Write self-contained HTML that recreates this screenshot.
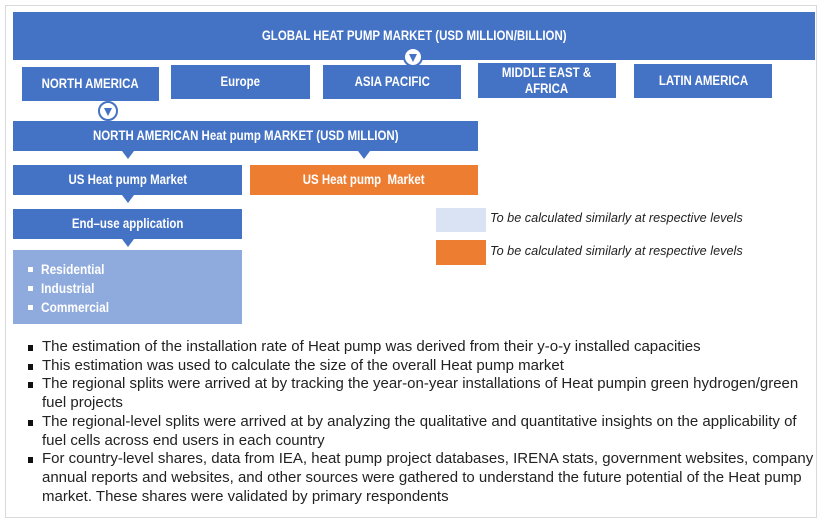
<!DOCTYPE html>
<html><head><meta charset="utf-8"><style>
body{margin:0;width:822px;height:529px;background:#fff;position:relative;overflow:hidden;font-family:"Liberation Sans",sans-serif}
.b{position:absolute;background:#4472c4;color:#fff;font-weight:bold;font-size:13.5px;display:flex;align-items:center;justify-content:center;text-align:center;line-height:16px}
.b span{display:inline-block;transform:scaleX(0.85);white-space:nowrap}
.o{background:#ed7d31}
.tri{position:absolute;width:0;height:0;border-left:6px solid transparent;border-right:6px solid transparent;border-top:8px solid #4472c4}
.c{position:absolute;width:20px;height:20px;border-radius:50%;background:#fff;border:2px solid #4472c4;box-sizing:border-box}
.c:after{content:"";position:absolute;left:4px;top:5px;border-left:4.5px solid transparent;border-right:4.5px solid transparent;border-top:8px solid #4472c4}
.frame{position:absolute;left:5px;top:5px;width:812px;height:513px;border:1px solid #d9d9d9;box-sizing:border-box}
.leg{position:absolute;font-style:italic;font-size:12.7px;color:#222}
ul{position:absolute;left:42px;top:338px;margin:0;padding:0;list-style:none;font-size:15px;line-height:18.7px;color:#222;width:800px}
li{position:relative;white-space:nowrap}
li:before{content:"";position:absolute;left:-14px;top:7px;width:5px;height:6px;background:#111}
.lst{position:absolute;left:28px;top:10px}
.lst span{display:inline-block;transform:scaleX(0.88);transform-origin:left}
</style></head><body>
<div class="frame"></div>
<div class="b" style="left:13px;top:12px;width:802px;height:48px"><span>GLOBAL HEAT PUMP MARKET (USD MILLION/BILLION)</span></div>
<div class="c" style="left:403px;top:47px"></div>
<div class="b" style="left:22px;top:67px;width:137px;height:34px"><span>NORTH AMERICA</span></div>
<div class="b" style="left:171px;top:65px;width:139px;height:34px"><span>Europe</span></div>
<div class="b" style="left:323px;top:65px;width:138px;height:34px"><span>ASIA PACIFIC</span></div>
<div class="b" style="left:478px;top:63px;width:138px;height:35px"><span>MIDDLE EAST &amp;<br>AFRICA</span></div>
<div class="b" style="left:634px;top:64px;width:138px;height:34px"><span>LATIN AMERICA</span></div>
<div class="c" style="left:98px;top:101px"></div>
<div class="b" style="left:13px;top:121px;width:465px;height:30px"><span>NORTH AMERICAN Heat pump MARKET (USD MILLION)</span></div>
<div class="tri" style="left:122px;top:151px"></div>
<div class="tri" style="left:358px;top:151px"></div>
<div class="b" style="left:13px;top:165px;width:229px;height:30px"><span>US Heat pump Market</span></div>
<div class="b o" style="left:250px;top:165px;width:228px;height:30px"><span>US Heat pump&nbsp; Market</span></div>
<div class="tri" style="left:122px;top:195px"></div>
<div class="b" style="left:13px;top:209px;width:229px;height:30px"><span>End–use application</span></div>
<div class="tri" style="left:122px;top:239px"></div>
<div style="position:absolute;left:13px;top:250px;width:229px;height:74px;background:#8faadc;color:#fff;font-weight:bold;font-size:13.5px;line-height:19px">
<div class="lst"><span>Residential</span><br><span>Industrial</span><br><span>Commercial</span></div>
<div style="position:absolute;left:15px;top:17px;width:5px;height:5px;background:#fff"></div>
<div style="position:absolute;left:15px;top:36px;width:5px;height:5px;background:#fff"></div>
<div style="position:absolute;left:15px;top:55px;width:5px;height:5px;background:#fff"></div>
</div>
<div style="position:absolute;left:436px;top:208px;width:50px;height:24px;background:#dae3f3"></div>
<div style="position:absolute;left:436px;top:240px;width:50px;height:25px;background:#ed7d31"></div>
<div class="leg" style="left:490px;top:211px">To be calculated similarly at respective levels</div>
<div class="leg" style="left:490px;top:244px">To be calculated similarly at respective levels</div>
<ul>
<li>The estimation of the installation rate of Heat pump was derived from their y-o-y installed capacities</li>
<li>This estimation was used to calculate the size of the overall Heat pump market</li>
<li>The regional splits were arrived at by tracking the year-on-year installations of Heat pumpin green hydrogen/green<br>fuel projects</li>
<li>The regional-level splits were arrived at by analyzing the qualitative and quantitative insights on the applicability of<br>fuel cells across end users in each country</li>
<li>For country-level shares, data from IEA, heat pump project databases, IRENA stats, government websites, company<br>annual reports and websites, and other sources were gathered to understand the future potential of the Heat pump<br>market. These shares were validated by primary respondents</li>
</ul>
</body></html>
